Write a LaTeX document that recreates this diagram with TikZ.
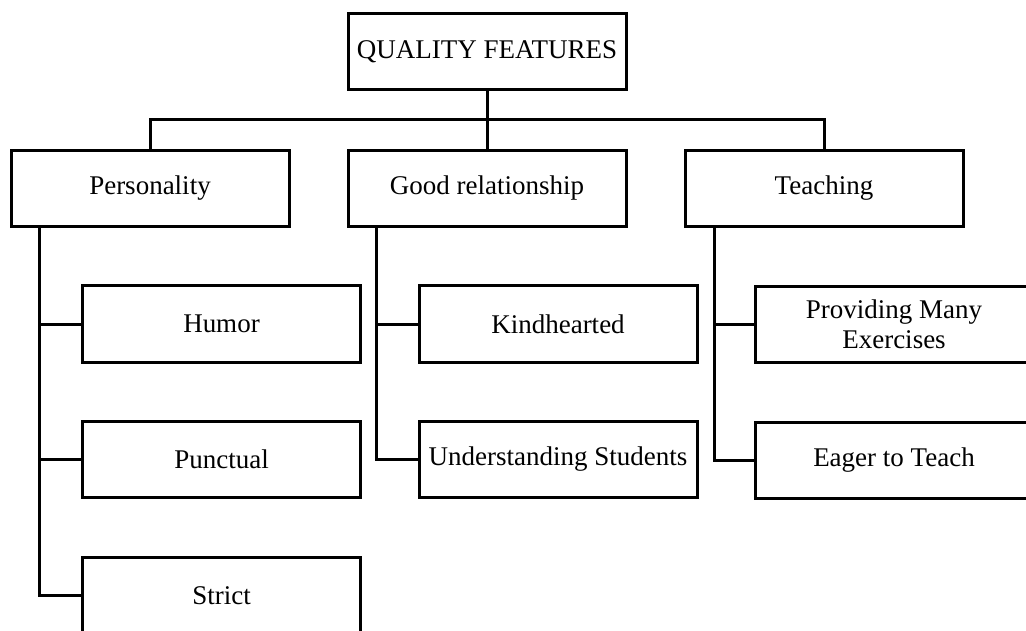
\documentclass[tikz,border=0pt]{standalone}
\usepackage{fontspec}
\setmainfont{Liberation Serif}
\usepackage{tikz}

\begin{document}
\begin{tikzpicture}[x=1pt,y=-1pt]
	\useasboundingbox (0,0) rectangle (1026,631);
	\clip (0,0) rectangle (1026,631);
		\begin{scope}[every node/.style={rectangle,draw,line width=3pt,minimum width=278pt,minimum height=76pt,inner sep=0pt,align=center,font=\fontsize{27}{30}\selectfont}]
    \node (Q) at (487,51.5) {QUALITY FEATURES};
    \node (P) at (150,188.5) {Personality};
    \node (G) at (487,188.5) {Good relationship};
    \node (T) at (824,188.5) {Teaching};
    \node (H) at (221.5,324) {Humor};
    \node (Pu) at (221.5,459.5) {Punctual};
    \node (S) at (221.5,595.5) {Strict};
    \node (K) at (558,324) {Kindhearted};
    \node (U) at (558,459.5) {Understanding Students};
    \node (E) at (894,324.5) {Providing Many\\Exercises};
    \node (Ea) at (894,460) {Eager to Teach};
	\end{scope}

	\coordinate (bus) at (487,120);
	\coordinate (p0) at (39,227);
	\coordinate (g0) at (376,227);
	\coordinate (t0) at (714,227);

	\begin{scope}[line width=3pt]
    \draw (Q) -- (G);
    \draw (P.north) |- (bus) -| (T.north);
    \draw (p0) |- (H.west);
    \draw (p0) |- (Pu.west);
    \draw (p0) |- (S.west);
    \draw (g0) |- (K.west);
    \draw (g0) |- (U.west);
    \draw (t0) |- (E.west);
    \draw (t0) |- (Ea.west);
\end{scope}
\end{tikzpicture}
\end{document}
